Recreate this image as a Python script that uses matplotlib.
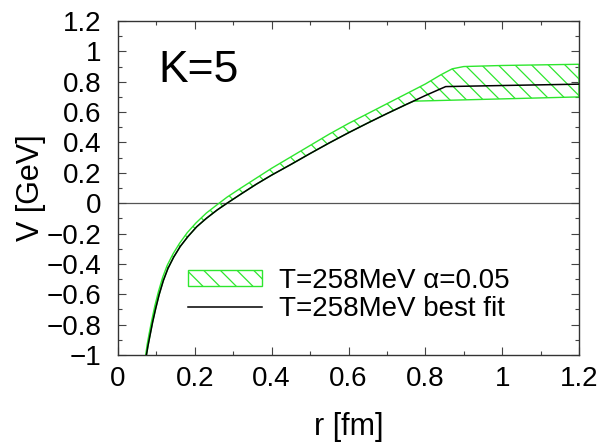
import numpy as np
import matplotlib
matplotlib.use('Agg')
import matplotlib.pyplot as plt
from matplotlib.ticker import MultipleLocator, FuncFormatter
from matplotlib.patches import Rectangle
from matplotlib.lines import Line2D

plt.rcParams['font.family'] = ['Liberation Sans', 'DejaVu Sans']
plt.rcParams['hatch.linewidth'] = 0.9

# best fit curve
r_fit = [0.074, 0.078, 0.083, 0.090, 0.098, 0.107, 0.118, 0.130, 0.145, 0.162,
         0.182, 0.205, 0.230, 0.258, 0.284, 0.32, 0.36, 0.40, 0.45, 0.50,
         0.55, 0.60, 0.65, 0.70, 0.75, 0.80, 0.853, 1.00, 1.20]
v_fit = [-1.00, -0.94, -0.875, -0.785, -0.695, -0.603, -0.51, -0.43, -0.355, -0.285,
         -0.22, -0.155, -0.10, -0.045, 0.00, 0.06, 0.125, 0.185, 0.255, 0.327,
         0.397, 0.464, 0.528, 0.59, 0.65, 0.709, 0.768, 0.775, 0.784]

# alpha=0.05 band: upper edge
r_up = [0.072, 0.076, 0.081, 0.088, 0.096, 0.105, 0.116, 0.128, 0.143, 0.160,
        0.180, 0.203, 0.230, 0.258, 0.284, 0.32, 0.36, 0.40, 0.45, 0.50,
        0.55, 0.60, 0.65, 0.70, 0.75, 0.80, 0.84, 0.87, 0.90, 1.00, 1.20]
v_up = [-1.00, -0.93, -0.86, -0.77, -0.675, -0.585, -0.49, -0.41, -0.335, -0.265,
        -0.195, -0.13, -0.065, -0.01, 0.04, 0.10, 0.165, 0.23, 0.305, 0.38,
        0.455, 0.525, 0.59, 0.655, 0.72, 0.785, 0.845, 0.885, 0.90, 0.907, 0.915]

# lower edge
r_lo = [0.074, 0.078, 0.083, 0.090, 0.098, 0.107, 0.118, 0.130, 0.145, 0.162,
        0.182, 0.205, 0.230, 0.258, 0.284, 0.32, 0.36, 0.40, 0.45, 0.50,
        0.55, 0.60, 0.65, 0.70, 0.75, 0.77, 1.20]
v_lo = [-1.00, -0.94, -0.875, -0.785, -0.695, -0.603, -0.51, -0.43, -0.355, -0.285,
        -0.22, -0.155, -0.10, -0.045, 0.00, 0.06, 0.125, 0.185, 0.255, 0.327,
        0.397, 0.464, 0.528, 0.59, 0.65, 0.672, 0.70]

green = '#2ee62e'
fs = 20


def fmt(v, pos):
    s = '%g' % round(v, 6)
    return s.replace('-', '\u2212')


fig = plt.figure(figsize=(6.04, 4.46), dpi=100)
ax = fig.add_axes([118/604., 1 - 355/446., 461/604., 334/446.])

ax.axhline(0, color='#555555', lw=0.9, zorder=1)

band_x = np.concatenate([r_up, r_lo[::-1]])
band_y = np.concatenate([v_up, v_lo[::-1]])
ax.fill(band_x, band_y, facecolor='none', edgecolor=green, hatch='\\\\',
        lw=1.0, zorder=2)
ax.plot(r_fit, v_fit, color='black', lw=1.1, zorder=3)

ax.set_xlim(0, 1.2)
ax.set_ylim(-1, 1.2)
ax.xaxis.set_major_locator(MultipleLocator(0.2))
ax.xaxis.set_minor_locator(MultipleLocator(0.1))
ax.yaxis.set_major_locator(MultipleLocator(0.2))
ax.yaxis.set_minor_locator(MultipleLocator(0.1))
ax.xaxis.set_major_formatter(FuncFormatter(fmt))
ax.yaxis.set_major_formatter(FuncFormatter(fmt))
ax.tick_params(which='both', direction='in', top=True, right=True,
               labelsize=fs, width=0.8, color='#444444')
ax.tick_params(which='major', length=6)
ax.tick_params(axis='x', which='major', pad=8)
ax.tick_params(axis='y', which='major', pad=12)
ax.tick_params(which='minor', length=3)
for s in ax.spines.values():
    s.set_linewidth(1.0)
    s.set_color('#333333')

ax.set_xlabel('r [fm]', fontsize=22, labelpad=14)
ax.set_ylabel('V [GeV]', fontsize=22, labelpad=0)

ax.text(0.087, 0.817, 'K=5', transform=ax.transAxes, fontsize=32,
        va='baseline', ha='left')

h_band = Rectangle((0, 0), 1, 1, facecolor='none', edgecolor=green,
                   hatch='\\\\', lw=1.0)
h_line = Line2D([], [], color='black', lw=1.1)
ax.legend([h_band, h_line], ['T=258MeV \u03b1=0.05', 'T=258MeV best fit'],
          loc='upper left', bbox_to_anchor=(0.152, 0.26), frameon=False,
          fontsize=fs, borderpad=0, borderaxespad=0, handlelength=2.66,
          handleheight=0.5, handletextpad=0.62, labelspacing=0.05)

fig.savefig('out.png', dpi=100)
